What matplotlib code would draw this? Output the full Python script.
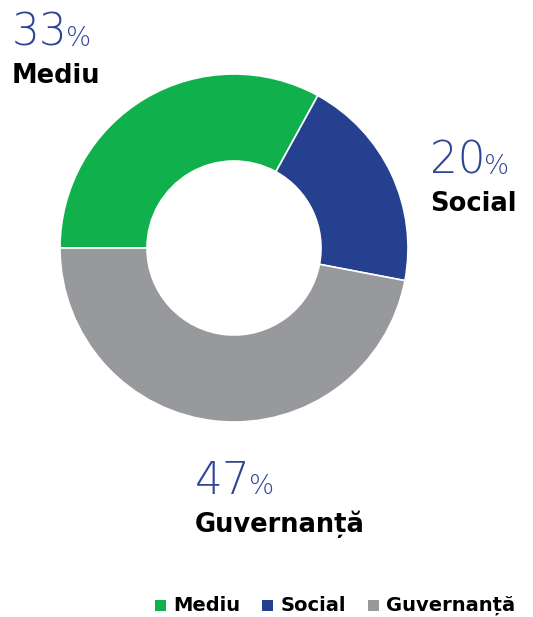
import matplotlib
matplotlib.use("Agg")
import matplotlib.pyplot as plt
from matplotlib.patches import Rectangle
from matplotlib.transforms import Affine2D

categories = ["Mediu", "Social", "Guvernanță"]
values = [33, 20, 47]
colors = ["#10b14c", "#24408e", "#98999d"]
num_color = "#2e4597"

W, H = 533, 617
fig = plt.figure(figsize=(W / 100, H / 100), dpi=100)
FONT = "DejaVu Sans"

cx, cy, R = 234, 248, 174
ax = fig.add_axes([(cx - R) / W, (H - cy - R) / H, 2 * R / W, 2 * R / H])
ax.pie(values, colors=colors, startangle=180, counterclock=False, radius=1,
       wedgeprops=dict(width=0.5, edgecolor="white", linewidth=1.2))
ax.set_xlim(-1, 1)
ax.set_ylim(-1, 1)
ax.set_aspect("equal")
ax.axis("off")

def ptrans():
    return Affine2D().scale(1, -1).translate(0, H)

renderer = fig.canvas.get_renderer()

def label(x, y_num, y_name, pct, name):
    t = fig.text(x, y_num, f"{pct}", transform=ptrans(), fontsize=31.5, color=num_color,
                 family=FONT, weight=200, ha="left", va="baseline")
    bb = t.get_window_extent(renderer)
    fig.text(bb.x1 - 2, y_num, "%", transform=ptrans(), fontsize=19, color=num_color,
             family=FONT, weight=200, ha="left", va="baseline")
    fig.text(x, y_name, name, transform=ptrans(), fontsize=18.5, color="black",
             family=FONT, weight="bold", ha="left", va="baseline")

label(12, 46, 83, values[0], categories[0])
label(430, 174, 211, values[1], categories[1])
label(195, 494, 532, values[2], categories[2])

# legend (manual, baseline-aligned)
x = 155
base = 611
sq = 11
for name, c in zip(categories, colors):
    fig.patches.append(Rectangle((x, base - sq), sq, sq, transform=ptrans(),
                                 facecolor=c, edgecolor="none"))
    t = fig.text(x + sq + 7, base, name, transform=ptrans(), fontsize=14,
                 family=FONT, weight="bold", color="black", ha="left", va="baseline")
    bb = t.get_window_extent(renderer)
    x = bb.x1 + 22

fig.savefig("out.png", dpi=100)
